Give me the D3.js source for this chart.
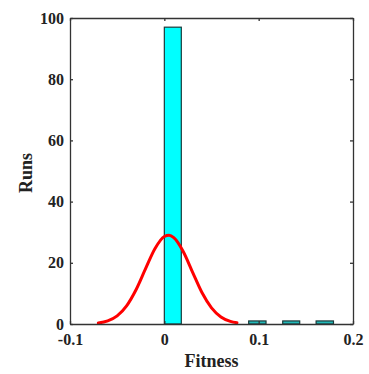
<!DOCTYPE html>
<html>
<head>
<meta charset="utf-8" />
<title>Fitness histogram</title>
<style>
body { margin: 0; background: #fff; }
svg text { font-family: "Liberation Serif", "Times New Roman", serif; font-weight: bold; fill: #222; }
</style>
</head>
<body>
<div id="graph"></div>
<script src="https://d3js.org/d3.v7.min.js"></script>
<script>
// histogram bins (left edge, right edge, count)
var binLo = [0, 0.0894, 0.1255, 0.1609];
var binHi = [0.018, 0.1078, 0.1435, 0.1793];
var binCount = [97, 1, 1, 1];

// fitted curve
var fitX = [-0.07, -0.06, -0.05, -0.04, -0.03, -0.02, -0.01, 0, 0.005, 0.01, 0.02, 0.03, 0.04, 0.05, 0.06, 0.07, 0.077];
var fitY = [0.33, 1.02, 2.66, 5.93, 11.2, 18.0, 24.6, 28.6, 29.0, 28.2, 23.7, 16.9, 10.2, 5.28, 2.31, 0.86, 0.39];

var xTicks = [-0.1, 0, 0.1, 0.2];
var yTicks = [0, 20, 40, 60, 80, 100];

var width = 369, height = 374;
var margin = {left: 70, right: 16, top: 18, bottom: 50};

var svg = d3.select("#graph").append("svg")
    .attr("width", width)
    .attr("height", height);

var x = d3.scaleLinear().domain([-0.1, 0.2]).range([margin.left, width - margin.right]);
var y = d3.scaleLinear().domain([0, 100]).range([height - margin.bottom, margin.top]);

// bars
var bins = binCount.map(function(c, i) { return {lo: binLo[i], hi: binHi[i], n: c}; });
svg.selectAll("rect.bar")
    .data(bins)
    .enter().append("rect")
    .attr("class", "bar")
    .attr("x", d => x(d.lo))
    .attr("width", d => x(d.hi) - x(d.lo))
    .attr("y", d => y(d.n))
    .attr("height", d => y(0) - y(d.n))
    .attr("fill", d => d.n > 5 ? "#00ffff" : "#22b8b8")
    .attr("stroke", "#1a3a3a")
    .attr("stroke-width", 1.2);

// fit line
var pts = fitX.map((v, i) => [v, fitY[i]]);
svg.append("path")
    .datum(pts)
    .attr("fill", "none")
    .attr("stroke", "#ff0000")
    .attr("stroke-width", 3)
    .attr("stroke-linecap", "round")
    .attr("d", d3.line().x(d => x(d[0])).y(d => y(d[1])).curve(d3.curveMonotoneX));

// axes, ticks inside on all sides
var fmt = d => String(d);
svg.append("g")
    .attr("transform", "translate(0," + y(0) + ")")
    .call(d3.axisBottom(x).tickValues(xTicks).tickSizeInner(-3).tickSizeOuter(0).tickPadding(10).tickFormat(fmt));
svg.append("g")
    .attr("transform", "translate(0," + y(100) + ")")
    .call(d3.axisTop(x).tickValues(xTicks).tickSizeInner(-3).tickSizeOuter(0).tickFormat(""));
svg.append("g")
    .attr("transform", "translate(" + x(-0.1) + ",0)")
    .call(d3.axisLeft(y).tickValues(yTicks).tickSizeInner(-3).tickSizeOuter(0).tickPadding(6).tickFormat(fmt));
svg.append("g")
    .attr("transform", "translate(" + x(0.2) + ",0)")
    .call(d3.axisRight(y).tickValues(yTicks).tickSizeInner(-3).tickSizeOuter(0).tickFormat(""));

svg.selectAll(".domain, .tick line").attr("stroke", "#333").attr("stroke-width", 1.3);
svg.selectAll(".tick text")
    .style("font-family", "'Liberation Serif', serif")
    .style("font-weight", "bold")
    .style("font-size", "16px")
    .attr("fill", "#222");

svg.append("text")
    .attr("x", (x(-0.1) + x(0.2)) / 2)
    .attr("y", 367)
    .attr("text-anchor", "middle")
    .style("font-size", "18px")
    .text("Fitness");

svg.append("text")
    .attr("transform", "translate(32," + (y(50) + 2) + ") rotate(-90)")
    .attr("text-anchor", "middle")
    .style("font-size", "18px")
    .text("Runs");
</script>
</body>
</html>
